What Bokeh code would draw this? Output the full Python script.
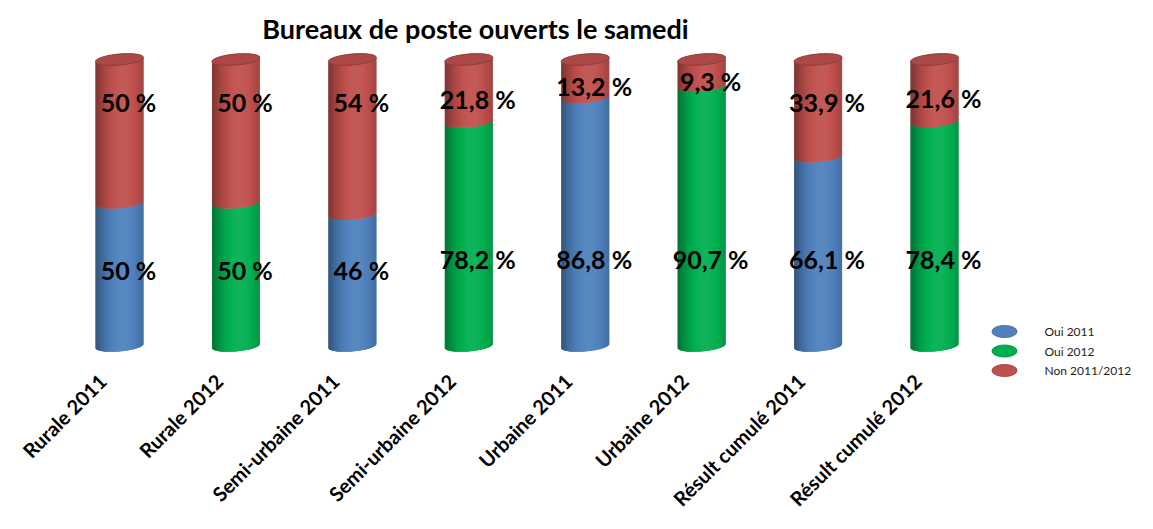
import numpy as np
from bokeh.plotting import figure
from bokeh.models import ColumnDataSource, Range1d
from bokeh.core.properties import value
from bokeh.embed import file_html
from bokeh.resources import INLINE

# ---------------- data ----------------
title_text = "Bureaux de poste ouverts le samedi"
categories = ["Rurale 2011", "Rurale 2012", "Semi-urbaine 2011", "Semi-urbaine 2012",
              "Urbaine 2011", "Urbaine 2012", "Résult cumulé 2011", "Résult cumulé 2012"]
years = [2011, 2012, 2011, 2012, 2011, 2012, 2011, 2012]
oui = [50, 50, 46, 78.2, 86.8, 90.7, 66.1, 78.4]
non = [50, 50, 54, 21.8, 13.2, 9.3, 33.9, 21.6]
oui_labels = ["50 %", "50 %", "46 %", "78,2 %", "86,8 %", "90,7 %", "66,1 %", "78,4 %"]
non_labels = ["50 %", "50 %", "54 %", "21,8 %", "13,2 %", "9,3 %", "33,9 %", "21,6 %"]
legend_names = ["Oui 2011", "Oui 2012", "Non 2011/2012"]
legend_colors = ["#4F81BD", "#00B050", "#C0504D"]
oui_color = {2011: "#4F81BD", 2012: "#00B050"}
non_color = "#C0504D"

# ---------------- geometry ----------------
W, H = 1137, 513
PX_X = 116.43          # px per category
PX_Y = 2.865           # px per percent
X0, Y0 = 119, 345.5    # canvas position of (0, 0)
x_start = -X0 / PX_X
x_end = (W - X0) / PX_X
y_end = Y0 / PX_Y
y_start = (Y0 - H) / PX_Y

def cx(px):
    return (px - X0) / PX_X

def cy(py):
    return (Y0 - py) / PX_Y

hw = 24 / PX_X           # half width of cylinder
eh = 5.5 / PX_Y          # half height of elliptical cap
slope = (4 / PX_Y) / (48 / PX_X)   # perspective tilt

def hex2rgb(h):
    h = h.lstrip("#")
    return np.array([int(h[i:i + 2], 16) for i in (0, 2, 4)], dtype=float)

def shade(h, f):
    c = hex2rgb(h)
    if f < 1:
        c = c * f
    else:
        c = c + (255 - c) * (f - 1)
    c = np.clip(c, 0, 255).astype(int)
    return "#%02x%02x%02x" % tuple(c)

def profile(u):
    return 0.64 + 0.42 * (1 - ((u - 0.15) / 1.15) ** 2)

def front(xc, level, x):
    d = np.clip((x - xc) / hw, -1, 1)
    return level + slope * (x - xc) - eh * np.sqrt(1 - d ** 2)

NS = 40
u_edges = np.sin(np.linspace(-np.pi / 2, np.pi / 2, NS + 1))

xs, ys, cols = [], [], []

def add_segment(xc, lo, hi, base):
    for k in range(NS):
        u0 = u_edges[k]
        u1 = u_edges[min(k + 2, NS)]      # overlap next strip to hide seams
        um = (u_edges[k] + u_edges[k + 1]) / 2
        xa, xb = xc + u0 * hw, xc + u1 * hw
        xx = [xa, xb, xb, xa]
        yy = [front(xc, lo, xa), front(xc, lo, xb), front(xc, hi, xb), front(xc, hi, xa)]
        xs.append(xx)
        ys.append(yy)
        cols.append(shade(base, profile(um)))

cap_x, cap_y, cap_fill, cap_line = [], [], [], []
for i in range(len(categories)):
    xc = i
    add_segment(xc, 0, oui[i], oui_color[years[i]])
    add_segment(xc, oui[i], 100, non_color)
    t = np.linspace(0, 2 * np.pi, 60)
    cap_x.append(list(xc + hw * np.cos(t)))
    cap_y.append(list(100 + slope * hw * np.cos(t) + eh * np.sin(t)))
    cap_fill.append(shade(non_color, 0.9))
    cap_line.append(shade(non_color, 0.72))

p = figure(width=W, height=H, output_backend="svg", toolbar_location=None,
           x_range=Range1d(x_start, x_end), y_range=Range1d(y_start, y_end),
           min_border=0, min_border_left=0, min_border_right=0,
           min_border_top=0, min_border_bottom=0)
p.axis.visible = False
p.grid.visible = False
p.outline_line_color = None
p.background_fill_color = "white"

src = ColumnDataSource(dict(xs=xs, ys=ys, c=cols))
p.patches("xs", "ys", source=src, fill_color="c", line_color=None)
capsrc = ColumnDataSource(dict(xs=cap_x, ys=cap_y, f=cap_fill, l=cap_line))
p.patches("xs", "ys", source=capsrc, fill_color="f", line_color="l", line_width=1)

# value labels
xi = np.arange(len(categories))
lx = xi + 9 / PX_X
low_y = [min(max(v / 2, 26.4), 30.2) for v in oui]
up_y = [100 - min((100 - b) / 2 + 2.8, 15.0) for b in oui]
lab = ColumnDataSource(dict(x=list(lx) * 2, y=low_y + up_y, t=oui_labels + non_labels))
p.text("x", "y", text="t", source=lab, text_font=value("Lato"), text_font_style="bold",
       text_font_size="25px", text_align="center", text_baseline="middle", text_color="black")

# category labels (rotated)
cat = ColumnDataSource(dict(x=list(xi - 17 / PX_X), y=[cy(377)] * len(categories),
                            t=categories))
p.text("x", "y", text="t", source=cat, angle=np.pi / 4, text_font=value("Lato"),
       text_font_style="bold", text_font_size="20px", text_align="right",
       text_baseline="middle", text_color="black")

# title
p.text(x=[cx(475)], y=[cy(28)], text=[title_text],
       text_font=value("Lato"), text_font_style="bold", text_font_size="27px",
       text_align="center", text_baseline="middle", text_color="black")

# legend
leg_y = [cy(331 + 19.5 * k) for k in range(len(legend_names))]
p.ellipse(x=[cx(1004)] * 3, y=leg_y, width=25, height=12,
          width_units="screen", height_units="screen",
          fill_color=legend_colors, line_color=[shade(c, 0.85) for c in legend_colors], line_width=1)
p.text(x=[cx(1044)] * 3, y=leg_y, text=legend_names, text_font=value("Lato"),
       text_font_size="12px", text_align="left", text_baseline="middle", text_color="#222222")

open("out.html", "w").write(file_html(p, INLINE))
